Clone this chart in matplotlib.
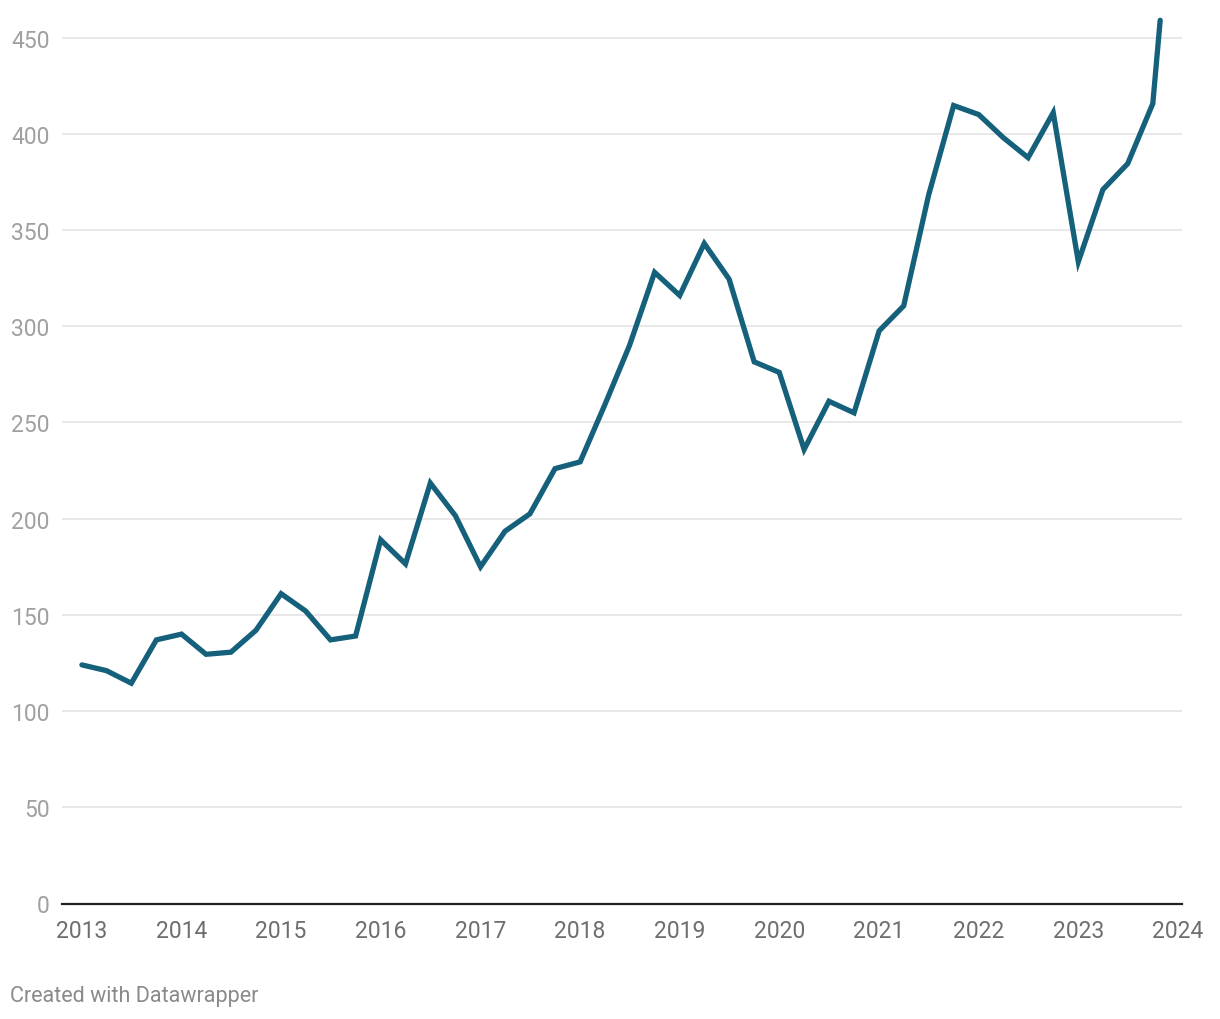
import matplotlib
matplotlib.use("Agg")
import matplotlib.pyplot as plt
import matplotlib.dates as mdates
import pandas as pd

plt.rcParams['font.family'] = ['Roboto', 'DejaVu Sans']

# quarterly observations, plus one final reading in late October 2023
dates = list(pd.date_range("2013-01-01", periods=44, freq="QS")) + [pd.Timestamp("2023-10-28")]
values = [
    124, 121, 114.5, 137,
    140, 129.5, 130.6, 142,
    161, 152, 137, 139,
    189, 176.5, 218.5, 201.5,
    175, 193.5, 202.5, 226,
    229.5, 259, 290, 328,
    316, 343, 324.5, 281.5,
    276, 236, 261, 255,
    297.6, 310.6, 368, 414.7,
    410, 398, 387.6, 411,
    333.5, 371, 384.5, 415.7,
    459,
]
year_ticks = [pd.Timestamp(f"{y}-01-01") for y in range(2013, 2025)]
y_ticks = list(range(0, 451, 50))

fig = plt.figure(figsize=(12.2, 10.2), dpi=100)
ax = fig.add_axes([62 / 1220, 1 - 904.5 / 1020, 1120 / 1220, 889 / 1020])

ax.plot(dates, values, color="#15607a", linewidth=3.8,
        solid_joinstyle="miter", solid_capstyle="round", clip_on=False, zorder=3)

ax.set_xlim(pd.Timestamp("2012-10-20"), pd.Timestamp("2024-01-16"))
ax.set_ylim(0, 462)

ax.set_yticks(y_ticks)
ax.set_xticks(year_ticks)
ax.xaxis.set_major_formatter(mdates.DateFormatter("%Y"))

ax.grid(axis="y", color="#e2e2e2", linewidth=1.1, zorder=0)
ax.grid(axis="x", visible=False)
for side in ["top", "right", "left"]:
    ax.spines[side].set_visible(False)
ax.spines["bottom"].set_color("#222222")
ax.spines["bottom"].set_linewidth(1.6)
ax.spines["bottom"].set_zorder(4)

ax.tick_params(axis="y", length=0, pad=9, labelsize=16.5, labelcolor="#a0a0a0")
ax.tick_params(axis="x", length=0, pad=11, labelsize=16.5, labelcolor="#6e6e6e")

fig.text(10 / 1220, 1 - 997 / 1020, "Created with Datawrapper",
         fontsize=15.5, color="#8a8a8a", ha="left", va="center")

fig.savefig("out.png", dpi=100, facecolor="white")
